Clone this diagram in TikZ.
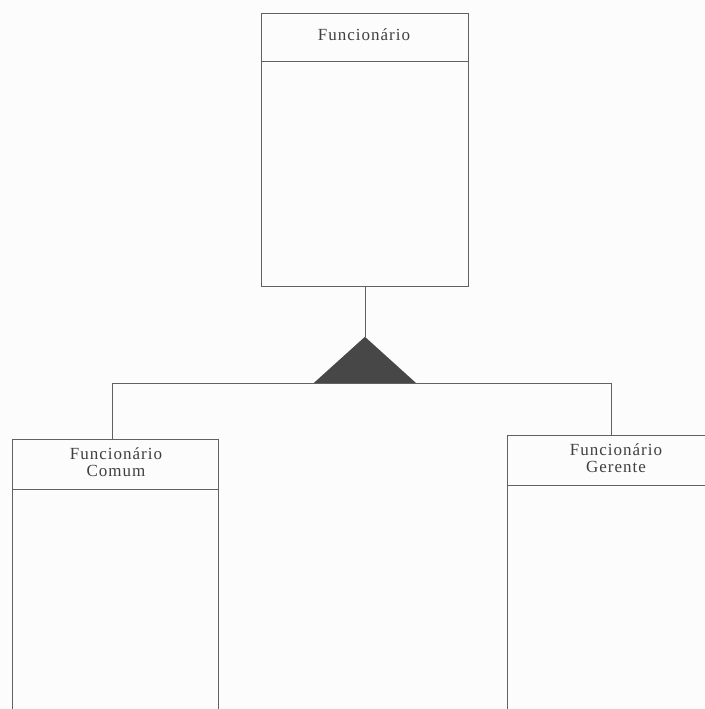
\documentclass[tikz,border=0pt]{standalone}
\usepackage{fontspec}
\setmainfont{Liberation Serif}[LetterSpace=6]
\begin{document}
\begin{tikzpicture}[x=1pt,y=-1pt,
  line width=0.8pt,
  classbox/.style={draw=black!62, rectangle, inner sep=0pt, anchor=north west},
  classname/.style={text=black!75, font=\fontsize{17}{19}\selectfont, align=center, inner sep=0pt},
  wire/.style={draw=black!62}]
  % page
  \fill[white!98!gray] (0,0) rectangle (704,709);
  \useasboundingbox (0,0) rectangle (704,709);

  % superclass
  \node[classbox, minimum width=207pt, minimum height=273pt] (func) at (261,13) {};
  \draw[wire] (261,61) -- (468,61);
  \node[classname] (funcname) at (364,35) {Funcionário};

  % subclass: common employee
  \node[classbox, minimum width=206pt, minimum height=280pt] (comum) at (12,439) {};
  \draw[wire] (12,489) -- (218,489);
  \node[classname] (comumname) at (116,462) {Funcionário\\[-2pt]Comum};

  % subclass: manager
  \node[classbox, minimum width=215pt, minimum height=280pt] (gerente) at (507,435) {};
  \draw[wire] (507,485) -- (722,485);
  \node[classname] (gerentename) at (616,458) {Funcionário\\[-2pt]Gerente};

  % generalization triangle
  \path (func.south) ++(0,50) coordinate (apex);
  \path (apex) ++(-52,47) coordinate (baseL);
  \path (apex) ++(52,47) coordinate (baseR);
  \coordinate (busL) at (112,383);
  \coordinate (busR) at (611,383);
  \fill[black!72] (apex) -- (baseR) -- (baseL) -- cycle;

  % connectors
  \draw[wire] (func.south) -- (apex);
  \draw[wire] (busL) -- (busR);
  \draw[wire] (busL) -- (busL |- comum.north);
  \draw[wire] (busR) -- (busR |- gerente.north);
\end{tikzpicture}
\end{document}
